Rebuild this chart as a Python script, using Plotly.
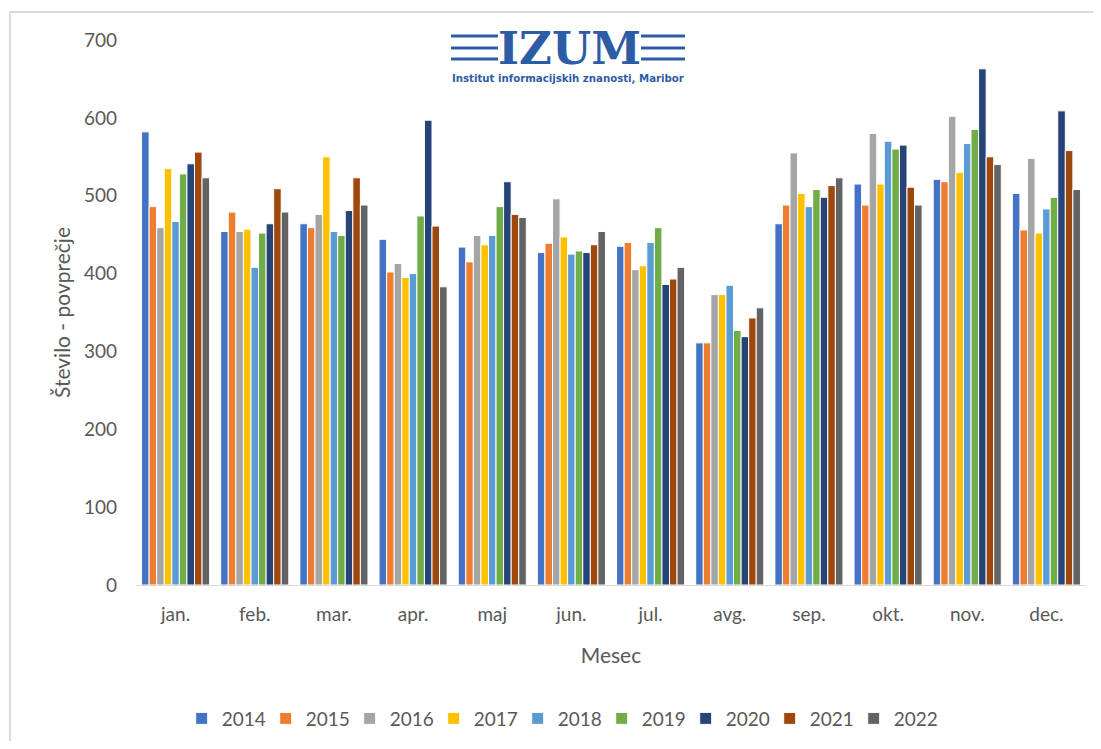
import plotly.graph_objects as go

months = ["jan.", "feb.", "mar.", "apr.", "maj", "jun.", "jul.", "avg.", "sep.", "okt.", "nov.", "dec."]
years = ["2014", "2015", "2016", "2017", "2018", "2019", "2020", "2021", "2022"]

v2014 = [582, 454, 464, 444, 434, 427, 435, 311, 464, 515, 521, 503]
v2015 = [486, 479, 459, 402, 415, 439, 440, 311, 488, 488, 518, 456]
v2016 = [459, 454, 476, 413, 449, 496, 405, 373, 555, 580, 602, 548]
v2017 = [535, 457, 550, 395, 437, 447, 410, 373, 503, 515, 530, 452]
v2018 = [467, 408, 454, 400, 449, 425, 440, 385, 486, 570, 567, 483]
v2019 = [528, 452, 449, 474, 486, 429, 459, 327, 508, 560, 585, 498]
v2020 = [541, 464, 481, 597, 518, 427, 386, 319, 498, 565, 663, 609]
v2021 = [556, 509, 523, 461, 476, 437, 393, 343, 513, 511, 550, 558]
v2022 = [523, 479, 488, 383, 472, 454, 408, 356, 523, 488, 540, 508]

series = [v2014, v2015, v2016, v2017, v2018, v2019, v2020, v2021, v2022]
colors = ["#4472C4", "#ED7D31", "#A5A5A5", "#FFC000", "#5B9BD5",
          "#70AD47", "#264478", "#9E480E", "#636363"]

FONT = "Lato"
GRAY = "#595959"

fig = go.Figure()
for name, vals, col in zip(years, series, colors):
    fig.add_trace(go.Bar(
        x=months, y=vals, name=name,
        marker=dict(color=col, line=dict(color="white", width=1)),
    ))

fig.update_layout(
    width=1085, height=733,
    paper_bgcolor="white", plot_bgcolor="white",
    barmode="group", bargap=0.14, bargroupgap=0,
    margin=dict(l=128, r=7, t=32, b=156, autoexpand=False),
    font=dict(family=FONT, color=GRAY, size=19),
    xaxis=dict(
        showline=True, linecolor="#D9D9D9", linewidth=1, automargin=False,
        showgrid=False, ticks="", tickfont=dict(size=19, color=GRAY),
        ticklabelstandoff=12,
        title=dict(text="Mesec", font=dict(size=21, color=GRAY), standoff=24),
    ),
    yaxis=dict(
        range=[0, 700], dtick=100, showgrid=False, showline=False, automargin=False,
        zeroline=False, ticks="", tickfont=dict(size=19, color=GRAY),
        ticklabelstandoff=18,
        title=dict(text="Število - povprečje", font=dict(size=21, color=GRAY), standoff=7),
    ),
    legend=dict(
        orientation="h", x=0.446, xanchor="center", y=-0.245, yanchor="middle",
        font=dict(size=19, color=GRAY), entrywidth=39, entrywidthmode="pixels",
        itemwidth=30, traceorder="normal",
    ),
)

# screen-pixel helpers (page is offset by 8px)
def px_x(px):
    return (px - 136) / 950
def px_y(py):
    return (585 - py) / 545

# outer frame of the chart: only its left and top edges are in view
fig.add_shape(type="line", xref="paper", yref="paper",
              x0=px_x(10), x1=px_x(10), y0=px_y(760), y1=px_y(12),
              line=dict(color="#D9D9D9", width=2), layer="below")
fig.add_shape(type="line", xref="paper", yref="paper",
              x0=px_x(10), x1=px_x(1110), y0=px_y(12), y1=px_y(12),
              line=dict(color="#D9D9D9", width=2), layer="below")

# IZUM logo
logo_blue = "#2D5CA6"
for yy in [36, 48, 59]:
    fig.add_shape(type="line", xref="paper", yref="paper",
                  x0=px_x(451), x1=px_x(498), y0=px_y(yy), y1=px_y(yy),
                  line=dict(color=logo_blue, width=3))
    fig.add_shape(type="line", xref="paper", yref="paper",
                  x0=px_x(641), x1=px_x(685), y0=px_y(yy), y1=px_y(yy),
                  line=dict(color=logo_blue, width=3))

fig.add_annotation(text="<b>IZUM</b>", xref="paper", yref="paper",
                   x=px_x(569), y=px_y(48), xanchor="center", yanchor="middle",
                   showarrow=False,
                   font=dict(family="DejaVu Serif", size=45, color=logo_blue))
fig.add_annotation(text="<b>Institut informacijskih znanosti, Maribor</b>", xref="paper", yref="paper",
                   x=px_x(568), y=px_y(79), xanchor="center", yanchor="middle",
                   showarrow=False,
                   font=dict(family="DejaVu Sans", size=10.2, color=logo_blue))

fig.write_html("out.html")
